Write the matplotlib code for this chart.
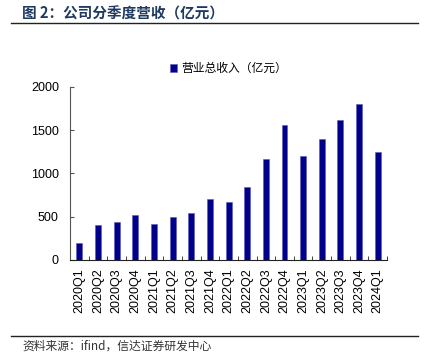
import matplotlib.pyplot as plt
import numpy as np

plt.rcParams['font.family'] = ['Liberation Sans', 'Noto Sans CJK SC', 'DejaVu Sans']

quarters = ["2020Q1", "2020Q2", "2020Q3", "2020Q4", "2021Q1", "2021Q2", "2021Q3", "2021Q4",
            "2022Q1", "2022Q2", "2022Q3", "2022Q4", "2023Q1", "2023Q2", "2023Q3", "2023Q4",
            "2024Q1"]
revenue = [197, 409, 444, 517, 413, 498, 544, 710,
           668, 838, 1170, 1564, 1201, 1402, 1622, 1800,
           1251]

fig = plt.figure(figsize=(4.24, 3.64), dpi=100)
ax = fig.add_axes([0.165, 0.286, 0.748, 0.475])

x = np.arange(len(quarters))
ax.bar(x, revenue, width=0.32, color="#00008B", edgecolor="#5a5ab8", linewidth=0.4,
       label="营业总收入（亿元）")

ax.set_xlim(-0.5, len(quarters) - 0.5)
ax.set_ylim(0, 2000)
ax.set_yticks([0, 500, 1000, 1500, 2000])
ax.set_xticks(x)
ax.set_xticklabels(quarters, rotation=90, fontsize=9)
ax.set_xticks(np.arange(-0.5, len(quarters)), minor=True)
ax.tick_params(axis="x", which="major", length=0, pad=6)
ax.tick_params(axis="x", which="minor", direction="in", length=3, color="#222222")
ax.tick_params(axis="y", direction="in", length=3, labelsize=9, pad=8, color="#555555")

for s in ["top", "right"]:
    ax.spines[s].set_visible(False)
ax.spines["left"].set_color("#555555")
ax.spines["bottom"].set_color("#222222")

ax.legend(loc="lower center", bbox_to_anchor=(0.5, 1.0), frameon=False, handlelength=0.6,
          handleheight=0.6, handletextpad=0.4, borderaxespad=0.6,
          prop={"family": "Noto Sans CJK SC", "size": 8.5})

fig.text(0.052, 0.962, "图 2：公司分季度营收（亿元）", fontsize=10.5, fontweight="bold",
         color="#1F3A60", family=["Noto Sans CJK SC", "DejaVu Sans"], va="center")
fig.add_artist(plt.Line2D([0.026, 0.986], [0.937, 0.937], color="#222222", linewidth=1.0))
fig.add_artist(plt.Line2D([0.026, 0.986], [0.077, 0.077], color="#222222", linewidth=1.0))
fig.text(0.052, 0.05, "资料来源：ifind，信达证券研发中心", fontsize=8.5, style="italic",
         color="#333333", family=["Noto Sans CJK SC", "DejaVu Sans"], va="center")

fig.savefig("out.png", dpi=100)
